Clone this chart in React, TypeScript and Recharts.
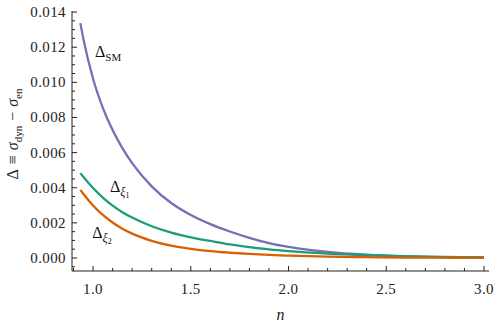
import { LineChart, Line, XAxis, YAxis, ReferenceDot } from 'recharts';

// n grid and the three differences
const nValues = [0.935, 0.95, 1.0, 1.05, 1.1, 1.15, 1.2, 1.3, 1.4, 1.5, 1.6, 1.7, 1.8, 1.9, 2.0, 2.2, 2.4, 2.6, 2.8, 3.0];
const deltaSM = [0.01337, 0.0125, 0.0102, 0.00855, 0.00728, 0.00625, 0.0054, 0.00408, 0.00313, 0.00245, 0.00193, 0.00151, 0.00115, 0.00085, 0.00063, 0.00035, 0.00019, 0.0001, 0.000053, 0.000028];
const deltaXi1 = [0.00483, 0.00462, 0.00398, 0.00344, 0.00298, 0.00261, 0.0023, 0.00181, 0.00145, 0.00118, 0.00097, 0.00077, 0.00062, 0.00049, 0.00039, 0.00025, 0.000156, 0.000095, 0.000058, 0.000035];
const deltaXi2 = [0.00388, 0.00366, 0.00299, 0.00245, 0.00202, 0.00167, 0.00139, 0.00098, 0.0007, 0.00052, 0.00039, 0.0003, 0.00023, 0.000175, 0.000133, 0.000078, 0.000045, 0.000027, 0.000016, 0.00001];

const xMajorTicks = [1.0, 1.5, 2.0, 2.5, 3.0];
const xMinorTicks = [0.9, 1.1, 1.2, 1.3, 1.4, 1.6, 1.7, 1.8, 1.9, 2.1, 2.2, 2.3, 2.4, 2.6, 2.7, 2.8, 2.9];
const yMajorTicks = [0, 0.002, 0.004, 0.006, 0.008, 0.01, 0.012, 0.014];
const yMinorTicks = [-0.0005, 0.0005, 0.001, 0.0015, 0.0025, 0.003, 0.0035, 0.0045, 0.005, 0.0055, 0.0065, 0.007, 0.0075, 0.0085, 0.009, 0.0095, 0.0105, 0.011, 0.0115, 0.0125, 0.013, 0.0135];

const data = nValues.map((n, i) => ({ n, sm: deltaSM[i], xi1: deltaXi1[i], xi2: deltaXi2[i] }));

const FONT = 'Liberation Serif, DejaVu Serif, Times New Roman, serif';
const INK = '#222';
const xDomain = [0.8923, 3.0256];
const yDomain = [-0.00074, 0.01406];
const xTicks = [...xMajorTicks, ...xMinorTicks].sort((a, b) => a - b);
const yTicks = [...yMajorTicks, ...yMinorTicks].sort((a, b) => a - b);

function BottomTick({ x, y, payload }: any) {
  const major = xMajorTicks.includes(payload.value);
  return (
    <g>
      <line x1={x} y1={y} x2={x} y2={y - (major ? 5 : 3)} stroke={INK} />
      {major && (
        <text x={x} y={y + 23} textAnchor="middle" fontFamily={FONT} fontSize={15} fill={INK} letterSpacing={0.4}>
          {payload.value.toFixed(1)}
        </text>
      )}
    </g>
  );
}

function TopTick({ x, y, payload }: any) {
  const major = xMajorTicks.includes(payload.value);
  return <line x1={x} y1={y} x2={x} y2={y + (major ? 5 : 3)} stroke={INK} />;
}

function LeftTick({ x, y, payload }: any) {
  const major = yMajorTicks.includes(payload.value);
  return (
    <g>
      <line x1={x} y1={y} x2={x + (major ? 5 : 3)} y2={y} stroke={INK} />
      {major && (
        <text x={x - 6} y={y + 5} textAnchor="end" fontFamily={FONT} fontSize={15} fill={INK} letterSpacing={0.4}>
          {payload.value.toFixed(3)}
        </text>
      )}
    </g>
  );
}

function RightTick({ x, y, payload }: any) {
  const major = yMajorTicks.includes(payload.value);
  return <line x1={x} y1={y} x2={x - (major ? 5 : 3)} y2={y} stroke={INK} />;
}

function YTitle({ viewBox }: any) {
  const cx = viewBox.x + 6;
  const cy = viewBox.y + viewBox.height / 2 - 7;
  return (
    <text
      x={cx}
      y={cy}
      transform={`rotate(-90, ${cx}, ${cy})`}
      textAnchor="middle"
      fontFamily={FONT}
      fontSize={16}
      fill={INK}
    >
      <tspan>Δ</tspan>
      <tspan dx={5}>≡</tspan>
      <tspan dx={5} fontStyle="italic">σ</tspan>
      <tspan dy={4} fontSize={11}>dyn</tspan>
      <tspan dx={5} dy={-4}>−</tspan>
      <tspan dx={5} fontStyle="italic">σ</tspan>
      <tspan dy={4} fontSize={11}>en</tspan>
    </text>
  );
}

function XTitle({ viewBox }: any) {
  return (
    <text
      x={viewBox.x + viewBox.width / 2}
      y={viewBox.y + 49}
      textAnchor="middle"
      fontFamily={FONT}
      fontSize={16}
      fill={INK}
      fontStyle="italic"
    >
      n
    </text>
  );
}

// curve annotations, anchored in data coordinates (left baseline of the Δ)
const curveLabels = [
  { n: 1.01, value: 0.01142, sub: 'SM', idx: '' },
  { n: 1.087, value: 0.00378, sub: 'ξ', idx: '1' },
  { n: 0.996, value: 0.00116, sub: 'ξ', idx: '2' },
];

function CurveLabel({ viewBox, sub, idx }: any) {
  return (
    <text x={viewBox.x} y={viewBox.y} fontFamily={FONT} fontSize={16} fill="#111">
      <tspan>Δ</tspan>
      {idx ? (
        <>
          <tspan dy={4} fontSize={12} fontStyle="italic">{sub}</tspan>
          <tspan dy={2} fontSize={8}>{idx}</tspan>
        </>
      ) : (
        <tspan dy={4} fontSize={11}>{sub}</tspan>
      )}
    </text>
  );
}

export default function App() {
  return (
    <div style={{ position: 'absolute', left: 0, top: 0, background: '#fff' }}>
      <LineChart width={498} height={329} data={data} margin={{ top: 11, right: 9, bottom: 0, left: 12 }}>
        <XAxis
          xAxisId="bottom"
          dataKey="n"
          type="number"
          domain={xDomain}
          allowDataOverflow
          ticks={xTicks}
          interval={0}
          height={58}
          tickSize={0}
          tickMargin={0}
          tickLine={false}
          tick={BottomTick}
          axisLine={{ stroke: INK }}
          label={{ content: XTitle }}
        />
        <XAxis
          xAxisId="top"
          orientation="top"
          dataKey="n"
          type="number"
          domain={xDomain}
          allowDataOverflow
          ticks={xTicks}
          interval={0}
          height={0}
          tickSize={0}
          tickMargin={0}
          tickLine={false}
          tick={TopTick}
          axisLine={{ stroke: INK }}
        />
        <YAxis
          yAxisId="left"
          type="number"
          domain={yDomain}
          allowDataOverflow
          ticks={yTicks}
          interval={0}
          width={60}
          tickSize={0}
          tickMargin={0}
          tickLine={false}
          tick={LeftTick}
          axisLine={{ stroke: INK }}
          label={{ content: YTitle }}
        />
        <YAxis
          yAxisId="right"
          orientation="right"
          type="number"
          domain={yDomain}
          allowDataOverflow
          ticks={yTicks}
          interval={0}
          width={0}
          tickSize={0}
          tickMargin={0}
          tickLine={false}
          tick={RightTick}
          axisLine={{ stroke: INK }}
        />
        <Line xAxisId="bottom" yAxisId="left" type="monotone" dataKey="sm" stroke="#7570b3" strokeWidth={2.3} dot={false} isAnimationActive={false} />
        <Line xAxisId="bottom" yAxisId="left" type="monotone" dataKey="xi1" stroke="#1b9e77" strokeWidth={2.3} dot={false} isAnimationActive={false} />
        <Line xAxisId="bottom" yAxisId="left" type="monotone" dataKey="xi2" stroke="#d95f02" strokeWidth={2.3} dot={false} isAnimationActive={false} />
        {curveLabels.map((c) => (
          <ReferenceDot
            key={c.sub + c.idx}
            xAxisId="bottom"
            yAxisId="left"
            x={c.n}
            y={c.value}
            r={0}
            fill="none"
            stroke="none"
            label={(p: any) => <CurveLabel {...p} sub={c.sub} idx={c.idx} />}
          />
        ))}
      </LineChart>
    </div>
  );
}
